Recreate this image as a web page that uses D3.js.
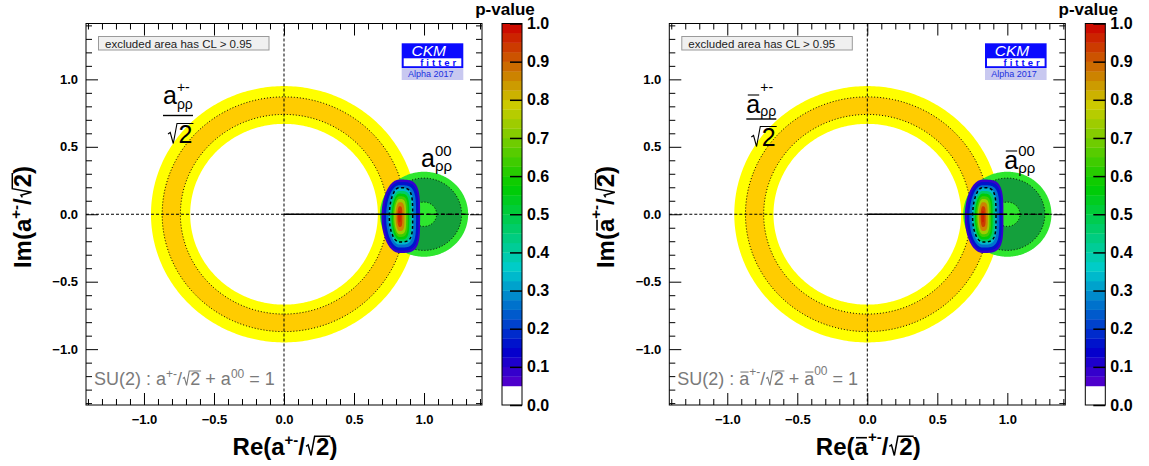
<!DOCTYPE html>
<html><head><meta charset="utf-8">
<script src="https://cdn.jsdelivr.net/npm/d3@7"></script>
<style>body{margin:0;background:#fff} svg{display:block} text{white-space:pre}</style>
</head><body>
<svg id="chart" width="1149" height="466"></svg>
<script>
// ---------------- data ----------------
const axisDomain = [-1.414, 1.414];
const xMajorTicks = [-1.0, -0.5, 0.0, 0.5, 1.0];
const yMajorTicks = [-1.0, -0.5, 0.0, 0.5, 1.0];
const minorTicks = [-1.4,-1.3,-1.2,-1.1,-0.9,-0.8,-0.7,-0.6,-0.4,-0.3,-0.2,-0.1,
                    0.1,0.2,0.3,0.4,0.6,0.7,0.8,0.9,1.1,1.2,1.3,1.4];
const colorTicks = [0.0,0.1,0.2,0.3,0.4,0.5,0.6,0.7,0.8,0.9,1.0];
const paletteStep = 0.025;      // width of one palette band
const excludedBelow = 0.05;     // p-values below this are white

// |a+-|/sqrt2 constraint: ring around origin (radii of CL bands)
const ringCenter = [0.0, 0.0];
const ring95 = [0.67, 0.95];
const ring68 = [0.74, 0.87];
// a00 constraint: disk around (1,0)
const a00Center = [1.0, 0.0];
const a00Outer = 0.315;
const a00Dark = 0.268;
const a00Inner = 0.09;
// combined p-value region: contour levels and extents (left, right, up, down)
const blobCenter = [0.824, -0.02];
const blobP     = [0.05, 0.10, 0.20, 0.30, 0.40, 0.50, 0.60, 0.70, 0.80, 0.90, 0.95];
const blobLeft  = [0.128,0.112,0.095,0.078,0.066,0.056,0.046,0.037,0.027,0.015,0.008];
const blobRight = [0.148,0.136,0.119,0.100,0.086,0.071,0.060,0.048,0.036,0.021,0.010];
const blobUp    = [0.277,0.259,0.235,0.215,0.193,0.173,0.153,0.133,0.109,0.079,0.044];
const blobDown  = [0.267,0.249,0.227,0.205,0.185,0.168,0.148,0.128,0.104,0.074,0.040];
const blob1Sigma = [0.072, 0.095, 0.217, 0.185];
// lines on the real axis
const solidSegment = [0.0, 0.97];
const dashedSegment = [0.97, 1.32];

// ---------------- layout ----------------
const FONT = "'Liberation Sans', Arial, Helvetica, sans-serif";
const svg = d3.select('#chart');
const panels = [{off: 0, bar: false}, {off: 583.3, bar: true}];
const PL = 86, PT = 23.5, PW = 396, PH = 381.5;
const CBX = 502, CBW = 20;

const pal = p => {
  if (p < excludedBelow) return '#ffffff';
  const q = Math.min(Math.floor((p - excludedBelow) / paletteStep), Math.round((1 - excludedBelow) / paletteStep) - 1);
  const mid = excludedBelow + (q + 0.5) * paletteStep;
  return d3.hsl(280 * (1 - mid), 1, 0.4).formatHex();
};

function rich(parent, runs, opt) {
  const g = parent.append('g');
  const inner = g.append('g');
  const fill = opt.fill || '#000';
  let cursor = 0, prevX = 0;
  runs.forEach(r => {
    const fs = r.fs, dy = r.dy || 0, fw = r.fw || 'normal';
    const rx = r.same ? prevX : cursor;
    prevX = rx;
    const rad = r.sqrt ? 0.46 * fs : 0;
    const sw = r.sw || (fw === 'bold' ? 1.6 : 1.1);
    const t = inner.append('text').attr('x', rx + rad).attr('y', dy)
      .attr('font-family', FONT).attr('font-size', fs).attr('font-weight', fw)
      .attr('font-style', r.italic ? 'italic' : 'normal')
      .attr('fill', fill).text(r.text);
    const tw = t.node().getComputedTextLength();
    if (r.sqrt) {
      const top = dy - 0.78 * fs;
      inner.append('path')
        .attr('d', `M${rx + 0.04*fs},${dy - 0.36*fs}L${rx + 0.13*fs},${dy - 0.42*fs}L${rx + 0.25*fs},${dy + 0.02*fs}L${rx + 0.40*fs},${top}L${rx + rad + tw + 0.04*fs},${top}`)
        .attr('fill', 'none').attr('stroke', fill).attr('stroke-width', sw);
    }
    if (r.over) {
      const oy = dy - 0.72 * fs;
      inner.append('line').attr('x1', rx + 0.06*fs).attr('x2', rx + tw - 0.04*fs)
        .attr('y1', oy).attr('y2', oy).attr('stroke', fill).attr('stroke-width', sw);
    }
    cursor = Math.max(cursor, rx + rad + tw);
  });
  const shift = opt.anchor === 'middle' ? -cursor / 2 : opt.anchor === 'end' ? -cursor : 0;
  inner.attr('transform', `translate(${shift},0)`);
  g.attr('transform', `translate(${opt.x},${opt.y})` + (opt.rotate ? ` rotate(${opt.rotate})` : ''));
  return g;
}

panels.forEach((P, pi) => {
  const off = P.off;
  const x = d3.scaleLinear().domain(axisDomain).range([PL + off, PL + off + PW]);
  const y = d3.scaleLinear().domain(axisDomain).range([PT + PH, PT]);
  const line = d3.line().curve(d3.curveLinearClosed);
  const circlePts = (c, r) => d3.range(360).map(i => {
    const t = i / 360 * 2 * Math.PI;
    return [x(c[0] + r * Math.cos(t)), y(c[1] + r * Math.sin(t))];
  });
  const annulus = (c, r) => line(circlePts(c, r[1])) + line(circlePts(c, r[0]).reverse());
  const dShape = (c, s) => d3.range(240).map(i => {
    const t = i / 240 * 2 * Math.PI, ct = Math.cos(t), st = Math.sin(t);
    const right = ct >= 0;
    const n = right ? 3.8 : 2.0;
    const px = (right ? s[1] : s[0]) * Math.sign(ct) * Math.pow(Math.abs(ct), 2 / n);
    const py = (st >= 0 ? s[2] : s[3]) * Math.sign(st) * Math.pow(Math.abs(st), 2 / n);
    return [x(c[0] + px), y(c[1] + py)];
  });

  const clipId = 'clip' + pi;
  svg.append('clipPath').attr('id', clipId).append('rect')
    .attr('x', PL + off).attr('y', PT).attr('width', PW).attr('height', PH);
  const plot = svg.append('g').attr('clip-path', `url(#${clipId})`);

  // ring
  plot.append('path').attr('d', annulus(ringCenter, ring95)).attr('fill', '#ffff00').attr('fill-rule', 'evenodd');
  plot.append('path').attr('d', annulus(ringCenter, ring68)).attr('fill', '#ffcc00').attr('fill-rule', 'evenodd');
  ring68.forEach(r => plot.append('path').attr('d', line(circlePts(ringCenter, r)))
    .attr('fill', 'none').attr('stroke', '#000').attr('stroke-width', 1).attr('stroke-dasharray', '1,2'));

  // a00 disk
  plot.append('path').attr('d', line(circlePts(a00Center, a00Outer))).attr('fill', '#2ee62e');
  plot.append('path').attr('d', line(circlePts(a00Center, a00Dark))).attr('fill', '#14a03c')
    .attr('stroke', '#000').attr('stroke-width', 1).attr('stroke-dasharray', '1,2');
  plot.append('path').attr('d', line(circlePts(a00Center, a00Inner))).attr('fill', '#2ee62e')
    .attr('stroke', '#000').attr('stroke-width', 1).attr('stroke-dasharray', '1,2');

  // combined region
  blobP.forEach((p, i) => {
    const next = i + 1 < blobP.length ? blobP[i + 1] : 1.0;
    plot.append('path').attr('d', line(dShape(blobCenter, [blobLeft[i], blobRight[i], blobUp[i], blobDown[i]])))
      .attr('fill', pal((p + next) / 2));
  });
  plot.append('path').attr('d', line(dShape(blobCenter, blob1Sigma)))
    .attr('fill', 'none').attr('stroke', '#000').attr('stroke-width', 1.5).attr('stroke-dasharray', '3,2.5');

  // axes lines through origin
  plot.append('line').attr('x1', x(0)).attr('x2', x(0)).attr('y1', PT).attr('y2', PT + PH)
    .attr('stroke', '#000').attr('stroke-width', 1).attr('stroke-dasharray', '3,2');
  plot.append('line').attr('x1', PL + off).attr('x2', PL + off + PW).attr('y1', y(0)).attr('y2', y(0))
    .attr('stroke', '#000').attr('stroke-width', 1).attr('stroke-dasharray', '3,2');
  plot.append('line').attr('x1', x(solidSegment[0])).attr('x2', x(solidSegment[1])).attr('y1', y(0)).attr('y2', y(0))
    .attr('stroke', '#000').attr('stroke-width', 1.6);
  plot.append('line').attr('x1', x(dashedSegment[0])).attr('x2', x(dashedSegment[1])).attr('y1', y(0)).attr('y2', y(0))
    .attr('stroke', '#000').attr('stroke-width', 1.3).attr('stroke-dasharray', '4,3');

  // frame + ticks
  const fmt = d => d3.format('.1f')(d).replace('-', '\u2212');
  const styleAxis = g => {
    g.select('.domain').remove();
    g.attr('color', '#000');
    g.selectAll('text').attr('font-family', FONT).attr('font-weight', 'bold').attr('font-size', 13).attr('fill', '#000');
  };
  svg.append('g').attr('transform', `translate(0,${PT + PH})`)
    .call(d3.axisBottom(x).tickValues(xMajorTicks).tickSize(-12).tickPadding(10).tickFormat(fmt)).call(styleAxis);
  svg.append('g').attr('transform', `translate(0,${PT + PH})`)
    .call(d3.axisBottom(x).tickValues(minorTicks).tickSize(-6).tickFormat('')).call(styleAxis);
  svg.append('g').attr('transform', `translate(0,${PT})`)
    .call(d3.axisTop(x).tickValues(xMajorTicks).tickSize(-12).tickFormat('')).call(styleAxis);
  svg.append('g').attr('transform', `translate(0,${PT})`)
    .call(d3.axisTop(x).tickValues(minorTicks).tickSize(-6).tickFormat('')).call(styleAxis);
  svg.append('g').attr('transform', `translate(${PL + off},0)`)
    .call(d3.axisLeft(y).tickValues(yMajorTicks).tickSize(-12).tickPadding(8).tickFormat(fmt)).call(styleAxis);
  svg.append('g').attr('transform', `translate(${PL + off},0)`)
    .call(d3.axisLeft(y).tickValues(minorTicks).tickSize(-6).tickFormat('')).call(styleAxis);
  svg.append('g').attr('transform', `translate(${PL + off + PW},0)`)
    .call(d3.axisRight(y).tickValues(yMajorTicks).tickSize(-12).tickFormat('')).call(styleAxis);
  svg.append('g').attr('transform', `translate(${PL + off + PW},0)`)
    .call(d3.axisRight(y).tickValues(minorTicks).tickSize(-6).tickFormat('')).call(styleAxis);
  svg.append('rect').attr('x', PL + off).attr('y', PT).attr('width', PW).attr('height', PH)
    .attr('fill', 'none').attr('stroke', '#000').attr('stroke-width', 1);

  // "excluded area" box
  svg.append('rect').attr('x', 98.5 + off).attr('y', 36.5).attr('width', 170.5).attr('height', 13.5)
    .attr('fill', '#f0f0f0').attr('stroke', '#9a9a9a').attr('stroke-width', 1);
  svg.append('text').attr('x', 105 + off).attr('y', 47.5).attr('font-family', FONT).attr('font-size', 11.5)
    .attr('fill', '#222').text('excluded area has CL > 0.95');

  // CKMfitter logo
  const lx = 401.7 + off;
  svg.append('rect').attr('x', lx).attr('y', 43.3).attr('width', 61.6).attr('height', 24.7).attr('fill', '#0a0aff');
  svg.append('rect').attr('x', lx + 2).attr('y', 58.3).attr('width', 57.6).attr('height', 7.9).attr('fill', '#ffffff');
  svg.append('text').attr('x', lx + 27).attr('y', 56).attr('text-anchor', 'middle').attr('font-family', FONT)
    .attr('font-size', 15.5).attr('font-style', 'italic').attr('fill', '#fff').text('CKM');
  svg.append('text').attr('x', lx + 18.5).attr('y', 65.8).attr('font-family', FONT).attr('font-size', 9.5)
    .attr('font-weight', 'bold').attr('letter-spacing', 3).attr('fill', '#0a0aff').text('fitter');
  svg.append('rect').attr('x', lx).attr('y', 68).attr('width', 61.6).attr('height', 12).attr('fill', '#c8c8f0');
  svg.append('text').attr('x', lx + 29).attr('y', 77.3).attr('text-anchor', 'middle').attr('font-family', FONT)
    .attr('font-size', 9).attr('fill', '#2030e0').text('Alpha 2017');

  // labels inside plot
  const bar = P.bar;
  const numY = bar ? 113 : 104;
  rich(svg, [
    {text: 'a', fs: 25, over: bar},
    {text: '+-', fs: 14, dy: bar ? -21 : -12},
    {text: '\u03c1\u03c1', fs: 14, dy: bar ? 3 : 5, same: true}
  ], {x: 163 + off, y: numY});
  const fy = bar ? 119 : 115.5;
  svg.append('line').attr('x1', 163 + off).attr('x2', 193 + off).attr('y1', fy).attr('y2', fy)
    .attr('stroke', '#000').attr('stroke-width', 1.4);
  rich(svg, [{text: '2', fs: 25, sqrt: true}], {x: 167 + off, y: bar ? 146 : 143});

  rich(svg, [
    {text: 'a', fs: 25, over: bar},
    {text: '00', fs: 15, dy: bar ? -13 : -11},
    {text: '\u03c1\u03c1', fs: 15, dy: 4, same: true}
  ], {x: 421 + off, y: bar ? 169 : 167});

  // SU(2) relation
  const g18 = {fs: 18};
  rich(svg, bar ? [
    {text: 'SU(2) : ', ...g18}, {text: 'a', ...g18, over: true}, {text: '+-', fs: 12, dy: -9},
    {text: '/', ...g18}, {text: '2', ...g18, sqrt: true}, {text: ' + ', ...g18},
    {text: 'a', ...g18, over: true}, {text: '00', fs: 12, dy: -10}, {text: ' = 1', ...g18}
  ] : [
    {text: 'SU(2) : a', ...g18}, {text: '+-', fs: 12, dy: -7},
    {text: '/', ...g18}, {text: '2', ...g18, sqrt: true}, {text: ' + a', ...g18},
    {text: '00', fs: 12, dy: -7}, {text: ' = 1', ...g18}
  ], {x: 94 + off, y: 385, fill: '#7a7a7a'});

  // axis titles
  const B = {fs: 24, fw: 'bold'};
  const titleRuns = pre => [
    {text: pre, ...B}, {text: 'a', ...B, over: bar}, {text: '+-', fs: 15, fw: 'bold', dy: bar ? -13 : -10},
    {text: '/', ...B}, {text: '2', ...B, sqrt: true, sw: 1.5}, {text: ')', ...B}
  ];
  rich(svg, titleRuns('Re('), {x: 285 + off, y: 455, anchor: 'middle'});
  rich(svg, titleRuns('Im('), {x: 31 + off, y: 217, anchor: 'middle', rotate: -90});

  // colour bar
  const cx0 = CBX + off;
  const yc = d3.scaleLinear().domain([0, 1]).range([PT + PH, PT]);
  const bands = d3.range(Math.round((1 - excludedBelow) / paletteStep)).map(i => excludedBelow + i * paletteStep);
  svg.append('rect').attr('x', cx0).attr('y', yc(excludedBelow)).attr('width', CBW)
    .attr('height', yc(0) - yc(excludedBelow)).attr('fill', '#fff');
  bands.forEach(b => svg.append('rect').attr('x', cx0).attr('y', yc(b + paletteStep)).attr('width', CBW)
    .attr('height', yc(b) - yc(b + paletteStep) + 0.3).attr('fill', pal(b + paletteStep / 2)));
  svg.append('rect').attr('x', cx0).attr('y', PT).attr('width', CBW).attr('height', PH)
    .attr('fill', 'none').attr('stroke', '#000').attr('stroke-width', 1);
  svg.append('g').attr('transform', `translate(${cx0 + CBW},0)`)
    .call(d3.axisRight(yc).tickValues(colorTicks).tickSize(-12).tickPadding(5).tickFormat(d3.format('.1f')))
    .call(g => {
      g.select('.domain').remove();
      g.attr('color', '#000');
      g.selectAll('line').attr('stroke-width', 1.5);
      g.selectAll('text').attr('font-family', FONT).attr('font-weight', 'bold').attr('font-size', 16).attr('fill', '#000');
    });
  svg.append('text').attr('x', 505 + off).attr('y', 15).attr('text-anchor', 'middle').attr('font-family', FONT)
    .attr('font-weight', 'bold').attr('font-size', 17).text('p-value');
});
</script>
</body></html>
